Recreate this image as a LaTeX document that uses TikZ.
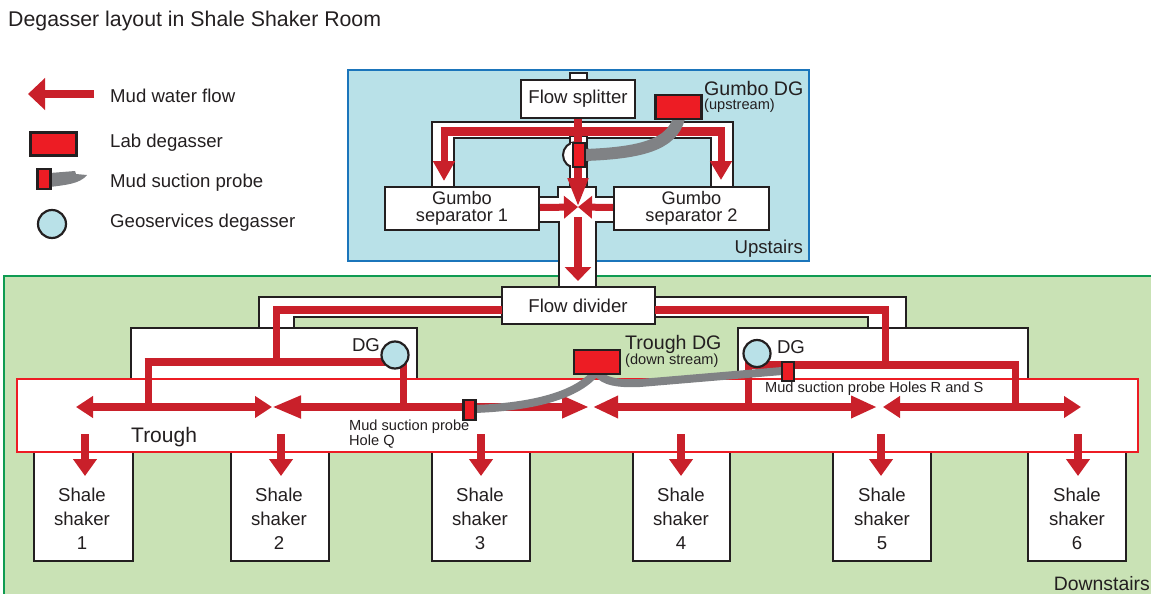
\documentclass[tikz,border=0pt]{standalone}
\usepackage{xcolor}
\usepackage{fontspec}
\setmainfont{Liberation Sans}
\usetikzlibrary{arrows.meta}
\definecolor{upfill}{HTML}{B9E1E8}
\definecolor{upline}{HTML}{1B75BB}
\definecolor{downfill}{HTML}{C9E2B5}
\definecolor{downline}{HTML}{0F9B52}
\definecolor{flowred}{HTML}{C9202A}
\definecolor{labred}{HTML}{ED1C24}
\definecolor{hosegray}{HTML}{808285}
\definecolor{inkblack}{HTML}{231F20}
\tikzset{
  txt/.style={font=\fontsize{18.6}{22}\selectfont, text=inkblack, inner sep=0pt},
  small/.style={font=\fontsize{14.6}{15}\selectfont, text=inkblack, inner sep=0pt, align=left},
  big/.style={font=\fontsize{19.6}{22}\selectfont, text=inkblack, inner sep=0pt},
  pipe/.style={draw=inkblack, fill=white, line width=2pt},
  whitebox/.style={pipe, inner sep=0pt, font=\fontsize{18.2}{17}\selectfont, text=inkblack, align=center},
  labdg/.style={draw=inkblack, fill=labred, line width=2.6pt, inner sep=0pt, minimum width=46pt, minimum height=23pt},
  probe/.style={draw=inkblack, fill=labred, line width=2.2pt, inner sep=0pt, minimum width=12pt, minimum height=20pt},
  geodg/.style={circle, draw=inkblack, fill=upfill, line width=2.2pt, inner sep=0pt, minimum size=27pt},
  flow/.style={draw=flowred, line width=#1},
  flow/.default=8pt,
  hose/.style={draw=hosegray, line width=#1},
  hose/.default=8pt,
  tip/.style n args={2}{arrows={-Triangle[length=#1pt,width=#2pt]}, fill=flowred},
  tips/.style n args={3}{arrows={Triangle[length=#1pt,width=#3pt]-Triangle[length=#2pt,width=#3pt]}, fill=flowred}
}
\begin{document}
\begin{tikzpicture}[x=1pt,y=-1pt]
  \useasboundingbox (0,0) rectangle (1151,594);

  % Rooms
  \draw[draw=downline, fill=downfill, line width=2pt] (3.5,276) rectangle (1165,610);
  \draw[draw=upline, fill=upfill, line width=2pt] (347.5,70.5) rectangle (809,261);
  \node[txt, anchor=east] (upstairs) at (803,249) {Upstairs};
  \node[txt, font=\fontsize{19.4}{20}\selectfont, anchor=east] (downstairs) at (1150,583.5) {Downstairs};
  \node[font=\fontsize{21.3}{22}\selectfont, text=inkblack, inner sep=0pt, anchor=west] (title) at (8,20.5) {Degasser layout in Shale Shaker Room};

  % Legend
  \coordinate (legfrom) at (94,94);
  \coordinate (legto) at (28,94);
  \draw[flow, tip={17}{31}] (legfrom) -- (legto);
  \node[labdg] (leglab) at (53.5,144) {};
  \fill[hosegray] (50,173) -- (75,171) -- (76,174) -- (87,175) .. controls (80,184) and (65,185) .. (50,187) -- cycle;
  \node[probe, minimum width=13pt] (legprobe) at (44,179) {};
  \node[geodg, minimum size=28pt] (leggeo) at (52,224) {};
  \node[txt, anchor=west] (legtxta) at (110,96) {Mud water flow};
  \node[txt, anchor=west] (legtxtb) at (110,142.5) {Lab degasser};
  \node[txt, anchor=west] (legtxtc) at (110,182.5) {Mud suction probe};
  \node[txt, anchor=west] (legtxtd) at (110,222.5) {Geoservices degasser};

  % Upstairs pipes
  \draw[pipe] (570,73) rectangle (587,82);
  \draw[pipe] (432,187) -- (432,122) -- (733,122) -- (733,187) -- (711,187) -- (711,138) -- (454,138) -- (454,187) -- cycle;
  \draw[pipe] (570,136) rectangle (587,190);
  \node[circle, draw=inkblack, fill=white, line width=2pt, inner sep=0pt, minimum size=26pt] (gumbocircle) at (576,155) {};
  \fill[white] (571,143) rectangle (586,187);
  \draw[inkblack, line width=2pt] (570,165) -- (570,187) (587,165) -- (587,187);
  \draw[pipe] (558,187) -- (596,187) -- (596,197) -- (616,197) -- (616,222) -- (596,222) -- (596,288) -- (559,288) -- (559,222) -- (538,222) -- (538,197) -- (558,197) -- cycle;
  \node[whitebox, font=\fontsize{18.6}{17}\selectfont, minimum width=114pt, minimum height=38pt] (splitter) at (578,99) {Flow splitter};
  \node[whitebox, minimum width=154pt, minimum height=43pt] (sepone) at (462,208.5) {Gumbo\\separator 1};
  \node[whitebox, minimum width=155pt, minimum height=43pt] (septwo) at (691.5,208.5) {Gumbo\\separator 2};

  % Upstairs flow
  \coordinate (junction) at (578,207);
  \coordinate (sepleft) at (444,181);
  \coordinate (sepright) at (721,180);
  \coordinate (bendleft) at (444,131);
  \coordinate (bendright) at (721,131);
  \coordinate (downfrom) at (578,217);
  \coordinate (downto) at (578,281);
  \draw[flow=7pt, tip={20}{21}] (bendleft) -- (sepleft);
  \draw[flow=7pt, tip={19}{21}] (bendright) -- (sepright);
  \draw[flow=9pt] (440.5,131) -- (724.5,131);
  \draw[flow, tip={29}{19}] (splitter.south) -- (junction);
  \draw[flow=7pt, tip={14}{22}] (sepone.east |- 0,207.5) -- (junction);
  \draw[flow=7pt, tip={14}{22}] (septwo.west |- 0,207.5) -- (junction);
  \draw[flow, tip={14}{26}] (downfrom) -- (downto);

  % Gumbo DG
  \draw[hose=12pt] (585,155) .. controls (640,153) and (672,145) .. (679,118);
  \node[probe, minimum height=24pt] (gumboprobe) at (579,155) {};
  \node[labdg, minimum height=24pt] (gumbodg) at (678.5,107) {};
  \node[big, anchor=west] (gumbotxt) at (704,88.5) {Gumbo DG};
  \node[small, anchor=west] (gumbosub) at (704,106) {(upstream)};

  % Downstairs pipes
  \draw[pipe] (131,380) -- (131,327.5) -- (417,327.5) -- (417,380);
  \draw[pipe] (738,380) -- (738,327.5) -- (1028,327.5) -- (1028,380);
  \draw[pipe] (259,328) -- (259,297) -- (906,297) -- (906,328) -- (868,328) -- (868,317) -- (294,317) -- (294,328) -- cycle;
  \node[whitebox, font=\fontsize{18.6}{17}\selectfont, minimum width=153pt, minimum height=37pt] (divider) at (578,305.5) {Flow divider};

  % Shale shakers
  \foreach \n/\xbox/\xtxt/\wbox in {1/83/82/99,2/280/279/98,3/481/480/98,4/681.5/681/97,5/882/882/98,6/1077/1077/98} {
    \node[pipe, inner sep=0pt, minimum width=\wbox pt, minimum height=120pt] (shaker\n) at (\xbox,501) {};
    \node[txt, font=\fontsize{18.6}{24}\selectfont, align=center] (shakertxt\n) at (\xtxt,519) {Shale\\shaker\\\n};
  }

  % Trough
  \node[draw=labred, fill=white, line width=2pt, inner sep=0pt, minimum width=1121pt, minimum height=73pt] (trough) at (577.5,415.5) {};
  \node[font=\fontsize{21}{22}\selectfont, text=inkblack, inner sep=0pt, anchor=west] (troughtxt) at (131,437) {Trough};

  % Downstairs flow
  \coordinate (divleft) at (502,310);
  \coordinate (divright) at (655,310);
  \coordinate (leftbend) at (276,310);
  \coordinate (leftdrop) at (276,362);
  \coordinate (rightbend) at (885,310);
  \coordinate (rightdrop) at (885,365);
  \draw[flow] (divleft) -- (272.5,310);
  \draw[flow=7pt] (leftbend) ++(0,-4) -- (leftdrop);
  \draw[flow] (divright) -- (888.5,310);
  \draw[flow=7pt] (rightbend) ++(0,-4) -- (rightdrop);
  \draw[flow] (144.5,362) -- (385,362);
  \draw[flow=7pt] (148,358.5) -- (148,407);
  \draw[flow=7pt] (403,362) -- (403,407);
  \draw[flow] (744.5,365) -- (1018.5,365);
  \draw[flow=7pt] (748,361) -- (748,407);
  \draw[flow=7pt] (1015,361) -- (1015,407);
  \coordinate (ta) at (76,407);
  \coordinate (tb) at (272,407);
  \coordinate (tc) at (589,407);
  \coordinate (td) at (593,407);
  \coordinate (te) at (877,407);
  \coordinate (tf) at (883,407);
  \coordinate (tg) at (1081,407);
  \draw[flow, tips={17}{17}{21}] (ta) -- (tb);
  \draw[flow, tips={29}{27}{21}] (tb) -- (tc);
  \draw[flow, tips={25}{26}{21}] (td) -- (te);
  \draw[flow, tips={17}{17}{21}] (tf) -- (tg);
  \foreach \n/\xdrop in {1/85,2/281,3/481,4/681,5/881,6/1078} {
    \coordinate (dropfrom\n) at (\xdrop,434);
    \coordinate (dropto\n) at (\xdrop,476);
    \draw[flow, tip={17}{23}] (dropfrom\n) -- (dropto\n);
  }

  % Degassers in the trough room
  \node[geodg] (geoleft) at (395,355) {};
  \node[geodg] (georight) at (757,353.5) {};
  \node[txt] (dgleft) at (366,345) {DG};
  \node[txt] (dgright) at (791,347) {DG};

  % Trough DG hoses
  \draw[hose] (596,372) .. controls (575,398) and (525,407) .. (475,409);
  \draw[hose] (597,372) .. controls (603,382) and (620,384) .. (640,383) -- (782,371);
  \node[probe] (probeq) at (469.5,410) {};
  \node[probe, minimum height=19pt] (proberight) at (788,371.5) {};
  \node[labdg, minimum height=24pt] (troughdg) at (597,362) {};
  \node[big, anchor=west] (troughdgtxt) at (625,344) {Trough DG};
  \node[small, anchor=west] (troughdgsub) at (625,360.5) {(down stream)};
  \node[small, anchor=west] (holeq) at (349,434) {Mud suction probe\\Hole Q};
  \node[small, anchor=west] (holers) at (765,389) {Mud suction probe Holes R and S};
\end{tikzpicture}
\end{document}
